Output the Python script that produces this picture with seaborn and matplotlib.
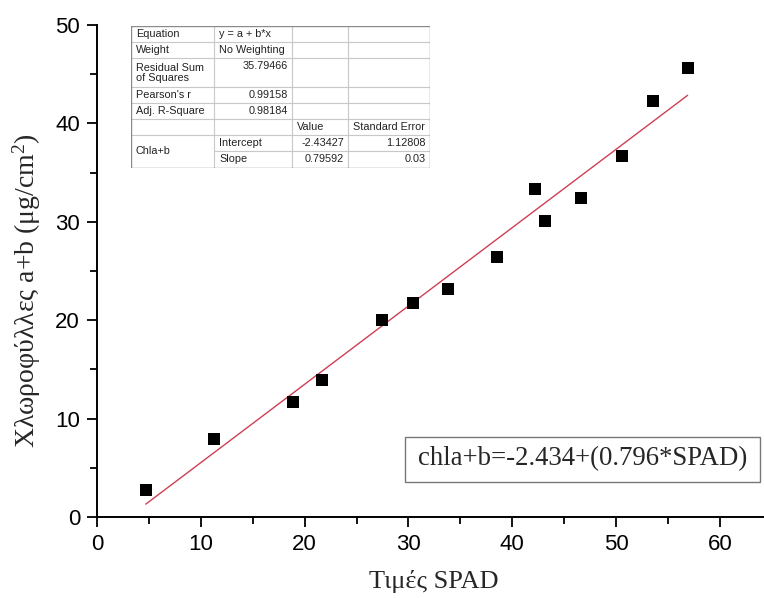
import numpy as np
import pandas as pd
import matplotlib
matplotlib.use("Agg")
import matplotlib.pyplot as plt
from matplotlib.patches import Rectangle
import seaborn as sns

# SPAD readings and measured chlorophyll a+b (μg/cm²)
spad = [4.7, 11.3, 18.9, 21.7, 27.5, 30.4, 33.8, 38.5, 42.2, 43.2, 46.6, 50.6, 53.6, 56.9]
chl = [2.7, 7.9, 11.7, 13.9, 20.0, 21.7, 23.2, 26.4, 33.3, 30.1, 32.4, 36.7, 42.3, 45.6]

# linear fit results
intercept = -2.43427
slope = 0.79592
intercept_se = 1.12808
slope_se = 0.03
rss = 35.79466
pearson_r = 0.99158
adj_r2 = 0.98184

x_ticks = [0, 10, 20, 30, 40, 50, 60]
y_ticks = [0, 10, 20, 30, 40, 50]

sns.set_style("ticks")
plt.rcParams["font.family"] = ["Liberation Sans", "DejaVu Sans"]
plt.rcParams["mathtext.fontset"] = "custom"
plt.rcParams["mathtext.rm"] = "Liberation Serif"
plt.rcParams["mathtext.it"] = "Liberation Serif:italic"

fig = plt.figure(figsize=(7.64, 5.98), dpi=100)
W, H = 764, 598
ax = fig.add_axes([97 / W, (H - 517) / H, (W - 97) / W, 492 / H])

df = pd.DataFrame({"SPAD": spad, "Chl": chl})
fit_x = np.array([min(spad), max(spad)])
fit_df = pd.DataFrame({"SPAD": fit_x, "Chl": intercept + slope * fit_x})

sns.lineplot(data=fit_df, x="SPAD", y="Chl", ax=ax, color="#cf3f52", linewidth=1.0)
sns.scatterplot(data=df, x="SPAD", y="Chl", ax=ax, marker="s", s=66,
                color="black", edgecolor="black", linewidth=0, zorder=3)

ax.set_xlim(0, (W - 97) / 10.38)
ax.set_ylim(0, 50)
ax.set_xticks(x_ticks)
ax.set_yticks(y_ticks)
ax.set_xticks(np.arange(5, 65, 10), minor=True)
ax.set_yticks(np.arange(5, 50, 10), minor=True)
ax.tick_params(axis="both", which="major", direction="out", length=7.2, width=1.3,
               labelsize=16, pad=5, color="black", labelcolor="black")
ax.tick_params(axis="both", which="minor", direction="out", length=4.7, width=1.3,
               color="black")
for side in ["top", "right"]:
    ax.spines[side].set_visible(False)
for side in ["left", "bottom"]:
    ax.spines[side].set_linewidth(1.4)
    ax.spines[side].set_color("black")

ax.set_xlabel("Τιμές SPAD", family=["Liberation Serif"], fontsize=19)
ax.xaxis.set_label_coords(0.505, -0.108)
ax.set_ylabel("Χλωροφύλλες a+b (μg/cm$^{2}$)", family=["Liberation Serif"],
              fontsize=20)
ax.yaxis.set_label_coords(-0.081, 0.461)

# equation box
ax.add_patch(Rectangle((0.4618, 0.0711), 0.994 - 0.4618, 0.1626 - 0.0711,
                       transform=ax.transAxes, facecolor="white",
                       edgecolor="#777777", linewidth=1.0, zorder=4))
ax.text(0.728, 0.119, "chla+b=-2.434+(0.796*SPAD)", transform=ax.transAxes,
        ha="center", va="center", family=["Liberation Serif"], fontsize=19.3,
        zorder=5)

# fit statistics table
tx0, ty0, tw, th = 131, 26, 299, 142
tab = fig.add_axes([tx0 / W, (H - ty0 - th) / H, tw / W, th / H])
tab.set_xlim(0, tw)
tab.set_ylim(th, 0)
tab.axis("off")
cols = [0, 83, 161, 217, 299]
rows = [0, 16, 32, 61, 77, 93, 109, 125, 142]
grid_c = "#c8c8c8"
for yy in rows[1:-1]:
    if yy == rows[7]:
        tab.plot([cols[1], cols[4]], [yy, yy], color=grid_c, lw=0.8)
    else:
        tab.plot([0, tw], [yy, yy], color=grid_c, lw=0.8)
for xx in cols[1:-1]:
    tab.plot([xx, xx], [0, th], color=grid_c, lw=0.8)
tab.plot([0, tw, tw, 0, 0], [0, 0, th, th, 0], color="#8a8a8a", lw=1.0)

fs = 7.8
tc = "#222222"


def cell_left(c, r0, r1, s):
    y = (rows[r0] + rows[r1]) / 2
    tab.text(cols[c] + 5, y, s, ha="left", va="center", fontsize=fs, color=tc)


def cell_right(c, r0, s):
    y = rows[r0] + 8
    tab.text(cols[c + 1] - 4, y, s, ha="right", va="center", fontsize=fs, color=tc)


cell_left(0, 0, 1, "Equation")
cell_left(1, 0, 1, "y = a + b*x")
cell_left(0, 1, 2, "Weight")
cell_left(1, 1, 2, "No Weighting")
tab.text(cols[0] + 5, rows[2] + 15, "Residual Sum\nof Squares", ha="left",
         va="center", fontsize=fs, color=tc, linespacing=1.05)
cell_right(1, 2, f"{rss:.5f}")
cell_left(0, 3, 4, "Pearson's r")
cell_right(1, 3, f"{pearson_r:.5f}")
cell_left(0, 4, 5, "Adj. R-Square")
cell_right(1, 4, f"{adj_r2:.5f}")
cell_left(2, 5, 6, "Value")
cell_left(3, 5, 6, "Standard Error")
cell_left(0, 6, 8, "Chla+b")
cell_left(1, 6, 7, "Intercept")
cell_right(2, 6, f"{intercept:.5f}")
cell_right(3, 6, f"{intercept_se:.5f}")
cell_left(1, 7, 8, "Slope")
cell_right(2, 7, f"{slope:.5f}")
cell_right(3, 7, f"{slope_se:g}")

fig.savefig("out.png", dpi=100, facecolor="white")
